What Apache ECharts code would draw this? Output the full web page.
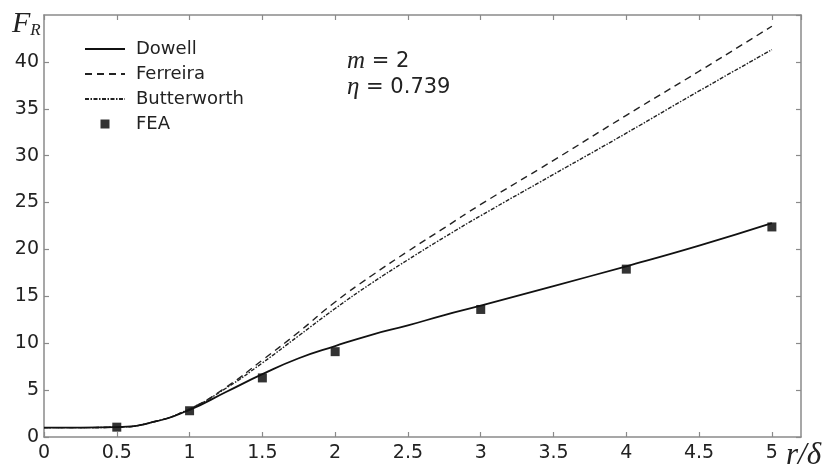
<!DOCTYPE html>
<html>
<head>
<meta charset="utf-8">
<script src="https://cdn.jsdelivr.net/npm/echarts@6/dist/echarts.min.js"></script>
<style>
    html, body { margin: 0; padding: 0; background: #fff; }
    #chart { width: 834px; height: 476px; }
</style>
</head>
<body>
<div id="chart"></div>
<script>
// r/delta grid for the analytic curves
const rValues = [0, 0.25, 0.5, 0.75, 1, 1.25, 1.5, 1.75, 2, 2.25, 2.5, 2.75, 3, 3.5, 4, 4.5, 5]
const dowell = [1.0, 1.0, 1.05, 1.6, 2.9, 4.8, 6.7, 8.4, 9.7, 10.9, 11.9, 13.0, 14.0, 16.1, 18.2, 20.4, 22.8]
const ferreira = [1.0, 1.0, 1.05, 1.6, 3.0, 5.3, 8.2, 11.2, 14.4, 17.2, 19.8, 22.3, 24.8, 29.5, 34.3, 39.0, 43.8]
const butterworth = [1.0, 1.0, 1.05, 1.6, 3.0, 5.2, 7.9, 10.8, 13.7, 16.4, 18.9, 21.3, 23.6, 28.0, 32.4, 36.9, 41.3]
// FEA points
const feaR = [0.5, 1, 1.5, 2, 3, 4, 5]
const feaF = [1.05, 2.8, 6.3, 9.1, 13.6, 17.9, 22.4]

const pairs = (xs, ys) => xs.map((x, i) => [x, ys[i]])

const axisColor = '#8a8a8a'
const labelFont = 'DejaVu Sans, sans-serif'
const serif = 'Liberation Serif, Times New Roman, serif'

const myChart = echarts.init(document.getElementById('chart'))

const boxAxis = (extra) => Object.assign({
    type: 'value',
    axisLine: { show: true, onZero: false, lineStyle: { color: axisColor, width: 1.5 } },
    axisTick: { show: true, inside: true, length: 5, lineStyle: { color: axisColor, width: 1.2 } },
    splitLine: { show: false },
}, extra)

// legend icons: hide the dot on the line items, small square for FEA
const noDot = { opacity: 0 }

myChart.setOption({
    animation: false,
    backgroundColor: '#fff',
    grid: { left: 44, top: 15, right: 33, bottom: 39, containLabel: false },
    legend: {
        orient: 'vertical',
        left: 79,
        top: 35,
        itemWidth: 40,
        itemHeight: 14,
        itemGap: 7,
        textStyle: { color: '#222', fontSize: 18, fontFamily: labelFont, padding: [0, 0, 0, 6] },
        data: [
            { name: 'Dowell', itemStyle: noDot },
            { name: 'Ferreira', itemStyle: noDot },
            { name: 'Butterworth', itemStyle: noDot },
            { name: 'FEA', icon: 'path://M0,0 M40,14 M15.5,2.5 h9 v9 h-9 z' }
        ]
    },
    xAxis: [
        boxAxis({
            min: 0, max: 5.2, interval: 0.5,
            position: 'bottom',
            axisLabel: {
                color: '#222', fontSize: 19, fontFamily: labelFont, margin: 7,
                showMaxLabel: false,
                formatter: (v) => v > 5 ? '' : String(v)
            }
        }),
        boxAxis({
            min: 0, max: 5.2, interval: 0.5,
            position: 'top',
            axisLabel: { show: false }
        })
    ],
    yAxis: [
        boxAxis({
            min: 0, max: 45, interval: 5,
            position: 'left',
            axisLabel: {
                color: '#222', fontSize: 19, fontFamily: labelFont, margin: 5,
                showMaxLabel: false,
                formatter: (v) => v > 40 ? '' : String(v)
            }
        }),
        boxAxis({
            min: 0, max: 45, interval: 5,
            position: 'right',
            axisLabel: { show: false }
        })
    ],
    graphic: [
        {
            type: 'text', left: 12, top: 9,
            style: {
                text: '{f|F}{r|R}',
                rich: {
                    f: { fontFamily: serif, fontStyle: 'italic', fontSize: 30, fill: '#222' },
                    r: { fontFamily: serif, fontStyle: 'italic', fontSize: 17, fill: '#222', verticalAlign: 'bottom', padding: [12, 0, 0, 0] }
                }
            }
        },
        {
            type: 'text', left: 786, top: 440,
            style: { text: 'r/δ', fontFamily: serif, fontStyle: 'italic', fontSize: 31, fill: '#222' }
        },
        {
            type: 'text', left: 347, top: 49,
            style: {
                text: '{i|m} = 2',
                fontFamily: labelFont, fontSize: 21, fill: '#222',
                rich: { i: { fontFamily: serif, fontStyle: 'italic', fontSize: 25, fill: '#222' } }
            }
        },
        {
            type: 'text', left: 347, top: 75,
            style: {
                text: '{i|η} = 0.739',
                fontFamily: labelFont, fontSize: 21, fill: '#222',
                rich: { i: { fontFamily: serif, fontStyle: 'italic', fontSize: 25, fill: '#222' } }
            }
        }
    ],
    series: [
        {
            name: 'Ferreira',
            type: 'line',
            smooth: true,
            symbol: 'none',
            data: pairs(rValues, ferreira),
            lineStyle: { color: '#222', width: 1.4, type: [7, 5] },
            itemStyle: { color: '#222' }
        },
        {
            name: 'Butterworth',
            type: 'line',
            smooth: true,
            symbol: 'none',
            data: pairs(rValues, butterworth),
            lineStyle: { color: '#222', width: 1.4, type: [4, 1.5, 1.5, 1.5] },
            itemStyle: { color: '#222' }
        },
        {
            name: 'Dowell',
            type: 'line',
            smooth: true,
            symbol: 'none',
            data: pairs(rValues, dowell),
            lineStyle: { color: '#111', width: 1.8 },
            itemStyle: { color: '#111' }
        },
        {
            name: 'FEA',
            type: 'scatter',
            symbol: 'rect',
            symbolSize: 9,
            data: pairs(feaR, feaF),
            itemStyle: { color: '#000' }
        }
    ]
})
</script>
</body>
</html>
